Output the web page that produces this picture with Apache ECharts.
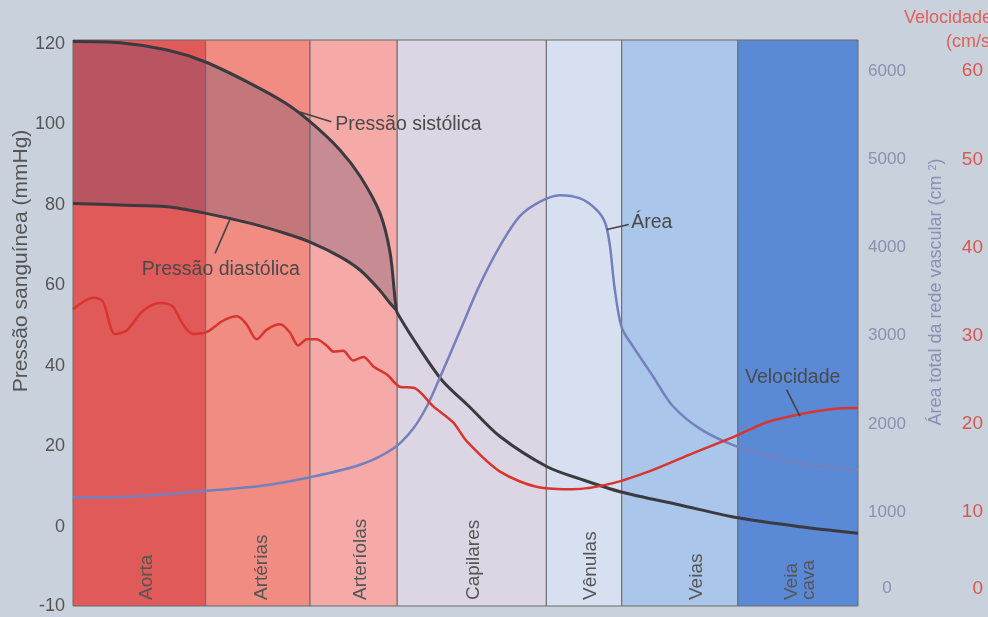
<!DOCTYPE html>
<html>
<head>
<meta charset="utf-8">
<script src="https://cdn.jsdelivr.net/npm/echarts@6/dist/echarts.min.js"></script>
<style>
html,body{margin:0;padding:0;background:#c9d1dc;}
#c{width:988px;height:617px;}
</style>
</head>
<body>
<div id="c"></div>
<script>
// ---- categories (vascular segments) ----
const columnNames = ['Aorta', 'Artérias', 'Arteríolas', 'Capilares', 'Vênulas', 'Veias', 'Veia\ncava'];
const columnEdges = [0, 16.9, 30.2, 41.3, 60.3, 69.9, 84.7, 100];
const columnLabelPos = [9.4, 24.1, 36.6, 51.1, 65.9, 79.5, 92.6];
const columnColors = ['#e05a5a', '#f08c82', '#f5aaa8', '#dcd5e3', '#d6e0f0', '#aac6ea', '#5a8ad6'];

// ---- tick labels ----
const pressureTicks = [0, 20, 40, 60, 80, 100, 120];
const pressureBottomLabel = '-10';
const areaTicks = [0, 1000, 2000, 3000, 4000, 5000, 6000];
const velocityTicks = [0, 10, 20, 30, 40, 50, 60];

// ---- series values ----
const posPressao = [0, 6, 12, 16.8, 22.5, 27, 30.2, 34, 36.6, 39.1, 40.4, 41.2];
const sistolica  = [120.5, 120.2, 118.4, 115.5, 110.2, 105.3, 100.6, 93.6, 87, 77.9, 68, 53.8];
const diastolica = [80.3, 79.9, 79.5, 77.9, 75.4, 72.9, 70.7, 67.1, 63.7, 58.7, 55.5, 53.8];

const posMedia = [41.7, 44.0, 47.0, 50.5, 54.4, 60.4, 65, 69.7, 77.3, 84.7, 92.6, 100];
const media    = [51.8, 44.7, 36.4, 29.8, 22.4, 14.9, 11.6, 8.7, 5.4, 2.2, 0, -1.6];

const posArea = [0, 6.8, 16.8, 23.8, 30.2, 36.6, 40.8, 43.3, 45.1, 46.8, 49.3, 51.8, 54.4, 56.9, 59.5, 62.0, 64.6, 66.7, 67.8, 68.4, 69.0, 69.9, 71.4, 73.9, 76.4, 79.9, 84.1, 88.3, 92.6, 96.9, 100];
const area    = [1167, 1174, 1241, 1297, 1397, 1538, 1722, 1944, 2204, 2538, 3056, 3574, 4019, 4352, 4519, 4593, 4556, 4427, 4278, 4019, 3538, 3093, 2871, 2538, 2204, 1944, 1760, 1649, 1556, 1500, 1482];

const posVelocidade = [0, 2.6, 3.8, 5.35, 6.84, 8.9, 11.1, 12.7, 14.0, 15.3, 17.0, 19.1, 20.9, 22.1, 23.4, 24.7, 26.4, 27.6, 28.7, 29.8, 31.0, 32.3, 33.2, 34.4, 35.7, 37.0, 38.3, 40.0, 41.7, 43.4, 45.9, 48.4, 50.2, 54.4, 59.5, 63.7, 68.8, 73.9, 79.0, 84.1, 88.4, 92.6, 96.8, 100];
const velocidade    = [33.0, 34.3, 33.9, 30.2, 30.6, 32.8, 33.7, 33.3, 31.3, 30.2, 30.4, 31.7, 32.2, 31.3, 29.6, 30.7, 31.3, 30.4, 28.9, 29.6, 29.6, 28.9, 28.2, 28.3, 27.2, 27.6, 26.5, 25.6, 24.2, 24.1, 22.0, 20.2, 18.0, 14.6, 12.8, 12.6, 13.3, 14.8, 16.7, 18.5, 20.2, 21.1, 21.7, 21.8];

// ---- annotations (data space: [position, value on axis]) ----
const anotacoes = [
  { texto: 'Pressão sistólica', eixo: 0, em: [33.4, 100], linha: [[28.9, 103.0], [32.9, 100.6]] },
  { texto: 'Pressão diastólica', eixo: 0, em: [8.75, 63.8], linha: [[20.0, 76.4], [18.1, 67.9]] },
  { texto: 'Área', eixo: 1, em: [71.1, 4286], linha: [[68.0, 4204], [70.8, 4260]] },
  { texto: 'Velocidade', eixo: 2, em: [85.6, 25.2], linha: [[90.9, 23.9], [92.6, 20.9]] }
];

const FONT = '"Liberation Sans", Arial, sans-serif';
const SMOOTH = 0.3;
const pMin = -19.7, pMax = 120.9;
const aMin = -63, aMax = 6352;
const vMin = -0.63, vMax = 63.52;

const zip = (xs, ys) => xs.map((x, i) => [x, ys[i]]);

const chart = echarts.init(document.getElementById('c'), null, { renderer: 'canvas' });

function renderColumn(params, api) {
  const i = api.value(2);
  const cs = params.coordSys;
  const x0 = api.coord([api.value(0), 0])[0];
  const x1 = api.coord([api.value(1), 0])[0];
  const lx = api.coord([columnLabelPos[i], 0])[0];
  return {
    type: 'group',
    children: [
      { type: 'rect', shape: { x: x0, y: cs.y, width: x1 - x0, height: cs.height },
        style: { fill: columnColors[i], stroke: '#6b6b6b', lineWidth: 1 } },
      { type: 'text', x: lx, y: cs.y + cs.height - 6, rotation: Math.PI / 2,
        style: { text: columnNames[i], fill: '#555', font: '19px ' + FONT,
                 align: 'left', verticalAlign: 'middle', lineHeight: 17 } }
    ]
  };
}

// smooth bezier segments in the same manner as ECharts line smoothing
function bezierSegments(pts, s) {
  const n = pts.length, before = [], after = [];
  for (let i = 0; i < n; i++) {
    const p = pts[i];
    if (i === 0 || i === n - 1) { before.push(p); after.push(p); continue; }
    const pr = pts[i - 1], nx = pts[i + 1];
    const vx = nx[0] - pr[0], vy = nx[1] - pr[1];
    const d0 = Math.hypot(p[0] - pr[0], p[1] - pr[1]);
    const d1 = Math.hypot(nx[0] - p[0], nx[1] - p[1]);
    const r = d1 / ((d0 + d1) || 1);
    after.push([p[0] + vx * s * r, p[1] + vy * s * r]);
    before.push([p[0] - vx * s * (1 - r), p[1] - vy * s * (1 - r)]);
  }
  let d = '';
  for (let i = 0; i < n - 1; i++) {
    d += ' C ' + after[i][0] + ' ' + after[i][1] + ' ' + before[i + 1][0] + ' ' + before[i + 1][1] +
         ' ' + pts[i + 1][0] + ' ' + pts[i + 1][1];
  }
  return d;
}

function renderBand(params, api) {
  const top = posPressao.map((x, i) => api.coord([x, sistolica[i]]));
  const bot = posPressao.map((x, i) => api.coord([x, diastolica[i]])).reverse();
  let d = 'M ' + top[0][0] + ' ' + top[0][1] + bezierSegments(top, SMOOTH);
  d += ' L ' + bot[0][0] + ' ' + bot[0][1] + bezierSegments(bot, SMOOTH) + ' Z';
  return { type: 'path', shape: { pathData: d }, style: { fill: 'rgba(105,75,110,0.33)' } };
}

const option = {
  animation: false,
  backgroundColor: '#c9d1dc',
  grid: { left: 73, right: 130, top: 40, bottom: 11, containLabel: false },
  xAxis: { type: 'value', min: 0, max: 100, show: false },
  yAxis: [
    { type: 'value', position: 'left', min: pMin, max: pMax,
      axisLine: { show: false }, axisTick: { show: false }, splitLine: { show: false },
      axisLabel: { customValues: [pMin].concat(pressureTicks),
        formatter: v => (v < -1 ? pressureBottomLabel : String(v)),
        color: '#555', fontSize: 18, fontFamily: FONT, margin: 8 } },
    { type: 'value', position: 'right', min: aMin, max: aMax,
      axisLine: { show: false }, axisTick: { show: false }, splitLine: { show: false },
      axisLabel: { customValues: areaTicks, align: 'center', margin: 29,
        formatter: v => (v === 0 ? '{z|0}' : String(v)),
        rich: { z: { padding: [0, 0, 24, 0], color: '#8a90b2', fontSize: 17, fontFamily: FONT } },
        color: '#8a90b2', fontSize: 17, fontFamily: FONT } },
    { type: 'value', position: 'right', offset: 118, min: vMin, max: vMax,
      axisLine: { show: false }, axisTick: { show: false }, splitLine: { show: false },
      axisLabel: { customValues: velocityTicks, align: 'right', margin: 7,
        formatter: v => (v === 0 ? '{z|0}' : String(v)),
        rich: { z: { padding: [0, 0, 24, 0], color: '#dc5650', fontSize: 19, fontFamily: FONT } },
        color: '#dc5650', fontSize: 19, fontFamily: FONT } }
  ],
  series: [
    { type: 'custom', name: 'segmentos', renderItem: renderColumn, xAxisIndex: 0, yAxisIndex: 0,
      encode: { x: [0, 1] }, z: 1, silent: true,
      data: columnNames.map((n, i) => [columnEdges[i], columnEdges[i + 1], i]) },
    { type: 'custom', name: 'faixa', renderItem: renderBand, xAxisIndex: 0, yAxisIndex: 0,
      encode: { x: 0, y: 1 }, z: 3, silent: true, data: [[posPressao[0], diastolica[0]]] },
    { type: 'line', name: 'Pressão diastólica', yAxisIndex: 0, smooth: SMOOTH,
      symbol: 'none', z: 4, lineStyle: { color: '#3b3a40', width: 3 },
      data: zip(posPressao, diastolica) },
    { type: 'line', name: 'Pressão sistólica', yAxisIndex: 0, smooth: SMOOTH,
      symbol: 'none', z: 4, lineStyle: { color: '#3b3a40', width: 3 },
      data: zip(posPressao, sistolica).concat(zip(posMedia, media)) },
    { type: 'line', name: 'Área', yAxisIndex: 1, smooth: SMOOTH,
      symbol: 'none', z: 5, lineStyle: { color: '#7480bd', width: 2.5 },
      data: zip(posArea, area) },
    { type: 'line', name: 'Velocidade', yAxisIndex: 2, smooth: SMOOTH,
      symbol: 'none', z: 6, lineStyle: { color: '#d8352f', width: 2.5 },
      data: zip(posVelocidade, velocidade) }
  ]
};

chart.setOption(option);

const px = (eixo, p) => chart.convertToPixel({ xAxisIndex: 0, yAxisIndex: eixo }, p);
const graphics = [];
anotacoes.forEach(a => {
  const t = px(a.eixo, a.em);
  const l0 = px(a.eixo, a.linha[0]);
  const l1 = px(a.eixo, a.linha[1]);
  graphics.push({ type: 'line', z: 100, silent: true,
    shape: { x1: l0[0], y1: l0[1], x2: l1[0], y2: l1[1] },
    style: { stroke: '#444', lineWidth: 1.6 } });
  graphics.push({ type: 'text', z: 100, silent: true, x: t[0], y: t[1],
    style: { text: a.texto, fill: '#4a4a4a', font: '19.5px ' + FONT, align: 'left', verticalAlign: 'middle' } });
});
// axis titles
graphics.push({ type: 'text', z: 100, x: 21, y: 261, rotation: Math.PI / 2,
  style: { text: 'Pressão sanguínea (mmHg)', fill: '#555', font: '21px ' + FONT, align: 'center', verticalAlign: 'middle' } });
graphics.push({ type: 'text', z: 100, x: 936, y: 292, rotation: Math.PI / 2,
  style: { text: 'Área total da rede vascular (cm {s|2})', fill: '#8a90b2', font: '18px ' + FONT,
           align: 'center', verticalAlign: 'middle',
           rich: { s: { fontSize: 11, fill: '#8a90b2', fontFamily: FONT, verticalAlign: 'top' } } } });
graphics.push({ type: 'text', z: 100, x: 904, y: 18,
  style: { text: 'Velocidade', fill: '#e0605a', font: '18px ' + FONT, align: 'left', verticalAlign: 'middle' } });
graphics.push({ type: 'text', z: 100, x: 946, y: 42,
  style: { text: '(cm/s)', fill: '#e0605a', font: '18px ' + FONT, align: 'left', verticalAlign: 'middle' } });

chart.setOption({ graphic: graphics });
</script>
</body>
</html>
